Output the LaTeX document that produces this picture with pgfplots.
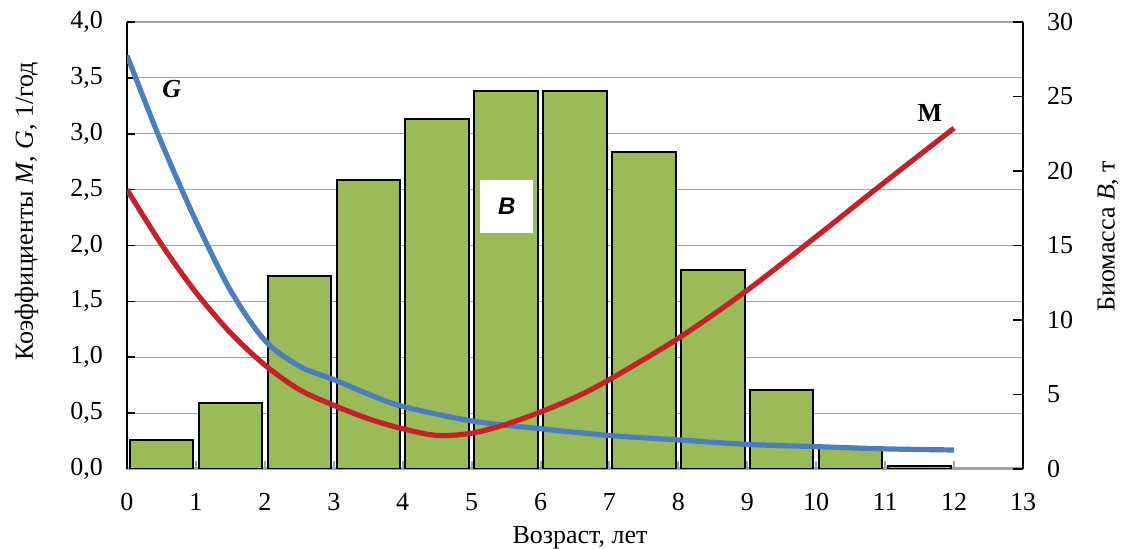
\documentclass[border=0pt]{standalone}
\usepackage{fontspec}
\setmainfont{Liberation Serif}
\newfontfamily\bsansfont{Liberation Sans}
\usepackage{pgfplots}
\pgfplotsset{compat=1.18}
\definecolor{gbar}{RGB}{155,187,89}
\definecolor{lblue}{RGB}{74,126,190}
\definecolor{lred}{RGB}{198,33,40}
\definecolor{gridgray}{RGB}{165,165,165}
\begin{document}
\rmfamily\fontsize{13}{15}\selectfont
\begin{tikzpicture}[font=\rmfamily]
\pgfplotsset{
  base/.style={scale only axis, width=448pt, height=223.5pt, xmin=0, xmax=13,
    /pgf/number format/assume math mode=true,
    tick label style={font=\rmfamily\fontsize{13}{15}\selectfont},
    label style={font=\rmfamily\fontsize{14}{16}\selectfont}}
}
% grid + left axis + x axis
\begin{axis}[base, name=ax, ymin=0, ymax=4,
  axis x line*=bottom, axis y line*=left,
  x axis line style={-, gridgray, line width=1.5pt},
  y axis line style={-, black, line width=1.2pt},
  xtick={0,...,13}, ytick={0,0.5,...,4},
  ymajorgrids, grid style={gridgray, line width=0.6pt},
  tick align=inside,
  xtick style={gridgray, line width=1pt},
  ytick style={black, line width=0.8pt},
  major tick length=4pt,
  yticklabel style={/pgf/number format/.cd, fixed, fixed zerofill, precision=1, use comma, /tikz/.cd, xshift=-7.5pt},
  xticklabel style={yshift=-7.5pt},
  ylabel={Коэффициенты \textit{M}, \textit{G}, 1/год},
  xlabel={Возраст, лет},
  every axis y label/.style={at={(axis description cs:-0.112,0.576)}, rotate=90, anchor=center},
  every axis x label/.style={at={(axis description cs:0.5056,-0.154)}, anchor=center},
]
\end{axis}
% bars, right axis
\begin{axis}[base, ymin=0, ymax=30,
  axis y line*=right, axis x line=none,
  y axis line style={-, black, line width=1.2pt},
  ytick={0,5,...,30},
  tick align=inside,
  ytick style={black, line width=0.8pt},
  major tick length=5pt,
  yticklabel style={xshift=7.5pt},
  ylabel={Биомасса \textit{B}, т},
  every axis y label/.style={at={(axis description cs:1.095,0.521)}, rotate=90, anchor=center},
]
\addplot[ybar, bar width=0.92, fill=gbar, draw=black, line width=1pt]
  coordinates {(0.5,1.95) (1.5,4.45) (2.5,12.95) (3.5,19.4) (4.5,23.5) (5.5,25.4)
               (6.5,25.4) (7.5,21.3) (8.5,13.35) (9.5,5.28) (10.5,1.4) (11.5,0.18)};
\end{axis}
% lines
\begin{axis}[base, ymin=0, ymax=4, hide axis]
\addplot[lblue, line width=2.6pt, smooth] coordinates {
  (0,3.70) (0.5,2.92) (1,2.22) (1.5,1.60) (2,1.15) (2.5,0.92) (3,0.80) (3.5,0.67)
  (4,0.56) (5,0.43) (6,0.36) (7,0.30) (8,0.26) (9,0.22) (10,0.20) (11,0.18) (12,0.17)};
\addplot[lred, line width=2.6pt, smooth] coordinates {
  (0,2.50) (0.5,2.01) (1,1.58) (1.5,1.22) (2,0.93) (2.5,0.71) (3,0.57) (3.5,0.45)
  (4,0.36) (4.5,0.30) (5,0.32) (5.5,0.40) (6,0.51) (6.5,0.64) (7,0.80) (8,1.17)
  (9,1.60) (10,2.08) (11,2.57) (12,3.05)};
\node[font=\rmfamily\fontsize{13}{15}\selectfont\bfseries\itshape] at (axis cs:0.65,3.40) {G};
\node[font=\rmfamily\fontsize{13}{15}\selectfont\bfseries] at (axis cs:11.65,3.19) {M};
\node[fill=white, minimum width=26.5pt, minimum height=26.5pt, inner sep=0pt,
      font=\bsansfont\fontsize{12}{14}\selectfont\bfseries\itshape] at (axis cs:5.51,2.35) {B};
\end{axis}
\pgfresetboundingbox
\path (ax.south west) ++(-63.5pt,-40pt) rectangle ++(562.5pt,274.5pt);
\end{tikzpicture}
\end{document}
